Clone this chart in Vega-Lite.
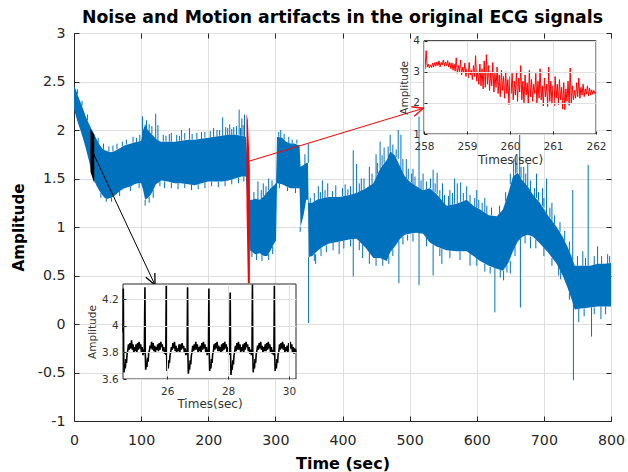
{
  "$schema": "https://vega.github.io/schema/vega-lite/v6.json",
  "width": 537,
  "height": 388,
  "autosize": "none",
  "padding": {"left": 74, "top": 33, "right": 17, "bottom": 51},
  "background": "#ffffff",
  "title": {
    "text": "Noise and Motion artifacts in the original ECG signals",
    "font": "DejaVu Sans",
    "fontSize": 17.3,
    "fontWeight": "bold",
    "color": "#000000",
    "anchor": "middle",
    "baseline": "alphabetic",
    "offset": 8,
    "dy": 22
  },
  "config": {
    "view": {"stroke": "#262626", "strokeWidth": 1},
    "axis": {
      "labelFont": "DejaVu Sans",
      "titleFont": "DejaVu Sans",
      "labelFlush": false,
      "labelOverlap": false,
      "gridColor": "#dfdfdf",
      "gridWidth": 1,
      "domainColor": "#262626",
      "tickColor": "#262626"
    }
  },
  "datasets": {
    "envelope": [
      {"t": 0, "lo": 2.22, "hi": 2.46}, {"t": 3, "lo": 2.14, "hi": 2.41}, {"t": 6, "lo": 2.07, "hi": 2.35},
      {"t": 10, "lo": 1.99, "hi": 2.28}, {"t": 14, "lo": 1.9, "hi": 2.21}, {"t": 18, "lo": 1.8, "hi": 2.13},
      {"t": 22, "lo": 1.69, "hi": 2.07}, {"t": 26, "lo": 1.58, "hi": 2.01}, {"t": 30, "lo": 1.48, "hi": 1.96},
      {"t": 34, "lo": 1.42, "hi": 1.9}, {"t": 38, "lo": 1.37, "hi": 1.85}, {"t": 42, "lo": 1.33, "hi": 1.81},
      {"t": 46, "lo": 1.3, "hi": 1.79}, {"t": 50, "lo": 1.29, "hi": 1.78}, {"t": 55, "lo": 1.3, "hi": 1.77},
      {"t": 60, "lo": 1.32, "hi": 1.78}, {"t": 65, "lo": 1.35, "hi": 1.8}, {"t": 70, "lo": 1.38, "hi": 1.82},
      {"t": 75, "lo": 1.4, "hi": 1.84}, {"t": 80, "lo": 1.41, "hi": 1.85}, {"t": 85, "lo": 1.42, "hi": 1.86},
      {"t": 90, "lo": 1.44, "hi": 1.87}, {"t": 95, "lo": 1.45, "hi": 1.88}, {"t": 100, "lo": 1.45, "hi": 1.89},
      {"t": 103, "lo": 1.38, "hi": 2.0}, {"t": 106, "lo": 1.28, "hi": 2.06}, {"t": 110, "lo": 1.3, "hi": 2.0},
      {"t": 114, "lo": 1.33, "hi": 1.97}, {"t": 118, "lo": 1.38, "hi": 1.94}, {"t": 122, "lo": 1.44, "hi": 1.91},
      {"t": 126, "lo": 1.46, "hi": 1.89}, {"t": 130, "lo": 1.48, "hi": 1.88}, {"t": 140, "lo": 1.47, "hi": 1.88},
      {"t": 150, "lo": 1.45, "hi": 1.88}, {"t": 160, "lo": 1.45, "hi": 1.89}, {"t": 170, "lo": 1.44, "hi": 1.9},
      {"t": 180, "lo": 1.43, "hi": 1.9}, {"t": 190, "lo": 1.45, "hi": 1.91}, {"t": 200, "lo": 1.47, "hi": 1.92},
      {"t": 210, "lo": 1.47, "hi": 1.93}, {"t": 220, "lo": 1.47, "hi": 1.94}, {"t": 230, "lo": 1.48, "hi": 1.95},
      {"t": 240, "lo": 1.5, "hi": 1.95}, {"t": 250, "lo": 1.52, "hi": 1.94}, {"t": 256, "lo": 1.52, "hi": 1.93},
      {"t": 262, "lo": 0.76, "hi": 1.28}, {"t": 266, "lo": 0.74, "hi": 1.28}, {"t": 270, "lo": 0.72, "hi": 1.29},
      {"t": 277, "lo": 0.73, "hi": 1.28}, {"t": 283, "lo": 0.7, "hi": 1.32}, {"t": 288, "lo": 0.7, "hi": 1.36},
      {"t": 293, "lo": 0.76, "hi": 1.4}, {"t": 298, "lo": 0.83, "hi": 1.43}, {"t": 301, "lo": 0.86, "hi": 1.45},
      {"t": 302.5, "lo": 1.45, "hi": 1.93}, {"t": 310, "lo": 1.44, "hi": 1.92}, {"t": 316, "lo": 1.42, "hi": 1.88},
      {"t": 322, "lo": 1.4, "hi": 1.86}, {"t": 328, "lo": 1.4, "hi": 1.86}, {"t": 336, "lo": 1.4, "hi": 1.84},
      {"t": 337.5, "lo": 1.0, "hi": 1.62}, {"t": 342, "lo": 1.12, "hi": 1.64}, {"t": 346, "lo": 1.28, "hi": 1.66},
      {"t": 348.5, "lo": 1.28, "hi": 1.66}, {"t": 349.5, "lo": 0.69, "hi": 1.25}, {"t": 355, "lo": 0.7, "hi": 1.25},
      {"t": 362, "lo": 0.75, "hi": 1.28}, {"t": 371, "lo": 0.8, "hi": 1.3}, {"t": 380, "lo": 0.83, "hi": 1.31},
      {"t": 396, "lo": 0.85, "hi": 1.31}, {"t": 410, "lo": 0.87, "hi": 1.33}, {"t": 421, "lo": 0.88, "hi": 1.35},
      {"t": 435, "lo": 0.78, "hi": 1.4}, {"t": 446, "lo": 0.68, "hi": 1.45}, {"t": 456, "lo": 0.68, "hi": 1.6},
      {"t": 466, "lo": 0.65, "hi": 1.69}, {"t": 471, "lo": 0.74, "hi": 1.78}, {"t": 478, "lo": 0.8, "hi": 1.74},
      {"t": 486, "lo": 0.88, "hi": 1.62}, {"t": 493, "lo": 0.92, "hi": 1.52}, {"t": 500, "lo": 0.93, "hi": 1.47},
      {"t": 510, "lo": 0.94, "hi": 1.42}, {"t": 520, "lo": 0.93, "hi": 1.38}, {"t": 530, "lo": 0.84, "hi": 1.4},
      {"t": 540, "lo": 0.8, "hi": 1.34}, {"t": 555, "lo": 0.76, "hi": 1.22}, {"t": 570, "lo": 0.75, "hi": 1.24},
      {"t": 585, "lo": 0.75, "hi": 1.28}, {"t": 595, "lo": 0.7, "hi": 1.22}, {"t": 605, "lo": 0.65, "hi": 1.18},
      {"t": 618, "lo": 0.6, "hi": 1.12}, {"t": 630, "lo": 0.57, "hi": 1.11}, {"t": 639, "lo": 0.55, "hi": 1.18},
      {"t": 647, "lo": 0.63, "hi": 1.35}, {"t": 654, "lo": 0.75, "hi": 1.52}, {"t": 661, "lo": 0.85, "hi": 1.56},
      {"t": 668, "lo": 0.9, "hi": 1.48}, {"t": 676, "lo": 0.92, "hi": 1.42}, {"t": 684, "lo": 0.9, "hi": 1.33},
      {"t": 694, "lo": 0.83, "hi": 1.25}, {"t": 706, "lo": 0.74, "hi": 1.12}, {"t": 719, "lo": 0.62, "hi": 1.0},
      {"t": 728, "lo": 0.5, "hi": 0.9}, {"t": 735, "lo": 0.38, "hi": 0.8}, {"t": 741, "lo": 0.26, "hi": 0.7},
      {"t": 746, "lo": 0.15, "hi": 0.6}, {"t": 755, "lo": 0.16, "hi": 0.6}, {"t": 769, "lo": 0.17, "hi": 0.6},
      {"t": 780, "lo": 0.18, "hi": 0.62}, {"t": 790, "lo": 0.18, "hi": 0.62}, {"t": 800, "lo": 0.18, "hi": 0.63}
    ],
    "spikes": [
      {"t": 102, "lo": 1.88, "hi": 2.14}, {"t": 108, "lo": 1.98, "hi": 2.1}, {"t": 121.7, "lo": 1.9, "hi": 2.17},
      {"t": 125, "lo": 1.88, "hi": 2.05}, {"t": 145, "lo": 1.88, "hi": 1.97}, {"t": 160, "lo": 1.89, "hi": 2.0},
      {"t": 172, "lo": 1.9, "hi": 2.02}, {"t": 190, "lo": 1.9, "hi": 1.98}, {"t": 208, "lo": 1.93, "hi": 2.02},
      {"t": 221.5, "lo": 1.94, "hi": 2.13}, {"t": 226, "lo": 1.94, "hi": 2.03}, {"t": 232, "lo": 1.95, "hi": 2.06},
      {"t": 238, "lo": 1.95, "hi": 2.03}, {"t": 246, "lo": 1.95, "hi": 2.21}, {"t": 250, "lo": 1.94, "hi": 2.12},
      {"t": 254, "lo": 1.93, "hi": 2.16}, {"t": 274, "lo": 1.28, "hi": 1.47}, {"t": 282, "lo": 1.32, "hi": 1.45},
      {"t": 290, "lo": 1.38, "hi": 1.5}, {"t": 308, "lo": 1.92, "hi": 2.0}, {"t": 320, "lo": 1.86, "hi": 1.93},
      {"t": 344, "lo": 1.64, "hi": 1.75}, {"t": 349, "lo": 1.66, "hi": 1.86}, {"t": 364, "lo": 1.28, "hi": 1.42},
      {"t": 370, "lo": 1.3, "hi": 1.48}, {"t": 378, "lo": 1.31, "hi": 1.45}, {"t": 390, "lo": 1.31, "hi": 1.43},
      {"t": 404, "lo": 1.32, "hi": 1.44}, {"t": 416, "lo": 1.34, "hi": 1.79}, {"t": 421, "lo": 1.35, "hi": 1.65},
      {"t": 428, "lo": 1.37, "hi": 1.5}, {"t": 440, "lo": 1.42, "hi": 1.62}, {"t": 450, "lo": 1.5, "hi": 1.75},
      {"t": 456, "lo": 1.6, "hi": 1.88}, {"t": 462, "lo": 1.66, "hi": 1.82}, {"t": 471, "lo": 1.78, "hi": 1.95},
      {"t": 483, "lo": 1.7, "hi": 2.0}, {"t": 487, "lo": 1.6, "hi": 1.95}, {"t": 495, "lo": 1.5, "hi": 1.7},
      {"t": 505, "lo": 1.44, "hi": 1.6}, {"t": 514, "lo": 1.4, "hi": 2.14}, {"t": 520, "lo": 1.38, "hi": 1.55},
      {"t": 535, "lo": 1.37, "hi": 1.59}, {"t": 541, "lo": 1.34, "hi": 1.56}, {"t": 549, "lo": 1.26, "hi": 1.45},
      {"t": 560, "lo": 1.22, "hi": 1.38}, {"t": 567, "lo": 1.24, "hi": 1.5}, {"t": 571, "lo": 1.24, "hi": 1.45},
      {"t": 576, "lo": 1.26, "hi": 1.46}, {"t": 585, "lo": 1.28, "hi": 1.42}, {"t": 600, "lo": 1.2, "hi": 1.38},
      {"t": 612, "lo": 1.15, "hi": 1.3}, {"t": 655, "lo": 1.52, "hi": 1.7}, {"t": 660, "lo": 1.56, "hi": 1.75},
      {"t": 664, "lo": 1.5, "hi": 2.0}, {"t": 670, "lo": 1.46, "hi": 1.62}, {"t": 676, "lo": 1.42, "hi": 1.65},
      {"t": 689, "lo": 1.3, "hi": 1.55}, {"t": 698, "lo": 1.22, "hi": 1.4}, {"t": 704, "lo": 1.14, "hi": 1.5},
      {"t": 712, "lo": 1.06, "hi": 1.25}, {"t": 743, "lo": 0.66, "hi": 1.38}, {"t": 758, "lo": 0.6, "hi": 0.75},
      {"t": 766, "lo": 0.6, "hi": 1.64}, {"t": 780, "lo": 0.62, "hi": 0.8}, {"t": 795, "lo": 0.62, "hi": 0.72},
      {"t": 106, "lo": 1.28, "hi": 1.22}, {"t": 118, "lo": 1.38, "hi": 1.3}, {"t": 337, "lo": 1.0, "hi": 0.95},
      {"t": 349.5, "lo": 0.69, "hi": 0.01}, {"t": 360, "lo": 0.72, "hi": 0.62}, {"t": 395, "lo": 0.85, "hi": 0.72},
      {"t": 416, "lo": 0.88, "hi": 0.49}, {"t": 430, "lo": 0.83, "hi": 0.68}, {"t": 440, "lo": 0.76, "hi": 0.62},
      {"t": 484, "lo": 0.86, "hi": 0.42}, {"t": 514, "lo": 0.94, "hi": 0.4}, {"t": 535, "lo": 0.82, "hi": 0.5},
      {"t": 548, "lo": 0.78, "hi": 0.62}, {"t": 590, "lo": 0.73, "hi": 0.6}, {"t": 627, "lo": 0.58, "hi": 0.12},
      {"t": 640, "lo": 0.55, "hi": 0.45}, {"t": 650, "lo": 0.65, "hi": 0.52}, {"t": 665, "lo": 0.88, "hi": 0.17},
      {"t": 680, "lo": 0.9, "hi": 0.78}, {"t": 722, "lo": 0.6, "hi": 0.5}, {"t": 744, "lo": 0.22, "hi": -0.58},
      {"t": 752, "lo": 0.16, "hi": 0.02}, {"t": 771, "lo": 0.17, "hi": -0.13}, {"t": 785, "lo": 0.18, "hi": 0.05},
      {"t": 5, "lo": 2.37, "hi": 2.42}, {"t": 12, "lo": 2.25, "hi": 2.3}, {"t": 20, "lo": 2.1, "hi": 2.16},
      {"t": 36, "lo": 1.87, "hi": 1.92}, {"t": 44, "lo": 1.8, "hi": 1.86}, {"t": 52, "lo": 1.78, "hi": 1.83},
      {"t": 58, "lo": 1.78, "hi": 1.84}, {"t": 64, "lo": 1.8, "hi": 1.86}, {"t": 72, "lo": 1.83, "hi": 1.88},
      {"t": 78, "lo": 1.85, "hi": 1.9}, {"t": 88, "lo": 1.87, "hi": 1.93}, {"t": 93, "lo": 1.87, "hi": 1.92},
      {"t": 98, "lo": 1.88, "hi": 1.95}, {"t": 112, "lo": 1.98, "hi": 2.06}, {"t": 116, "lo": 1.96, "hi": 2.04},
      {"t": 133, "lo": 1.88, "hi": 1.95}, {"t": 137, "lo": 1.88, "hi": 1.94}, {"t": 142, "lo": 1.88, "hi": 1.96},
      {"t": 153, "lo": 1.88, "hi": 1.95}, {"t": 157, "lo": 1.89, "hi": 1.94}, {"t": 165, "lo": 1.9, "hi": 1.97},
      {"t": 176, "lo": 1.9, "hi": 1.96}, {"t": 183, "lo": 1.9, "hi": 1.97}, {"t": 195, "lo": 1.92, "hi": 1.98},
      {"t": 203, "lo": 1.92, "hi": 1.99}, {"t": 213, "lo": 1.93, "hi": 2.0}, {"t": 217, "lo": 1.94, "hi": 2.0},
      {"t": 229, "lo": 1.95, "hi": 2.02}, {"t": 235, "lo": 1.95, "hi": 2.01}, {"t": 242, "lo": 1.95, "hi": 2.04},
      {"t": 248, "lo": 1.94, "hi": 2.02}, {"t": 252, "lo": 1.94, "hi": 2.05},
      {"t": 40, "lo": 1.35, "hi": 1.3}, {"t": 48, "lo": 1.3, "hi": 1.26}, {"t": 56, "lo": 1.3, "hi": 1.26},
      {"t": 68, "lo": 1.37, "hi": 1.32}, {"t": 84, "lo": 1.42, "hi": 1.37}, {"t": 97, "lo": 1.45, "hi": 1.4},
      {"t": 112, "lo": 1.31, "hi": 1.25}, {"t": 128, "lo": 1.47, "hi": 1.42}, {"t": 135, "lo": 1.47, "hi": 1.4},
      {"t": 145, "lo": 1.46, "hi": 1.4}, {"t": 155, "lo": 1.45, "hi": 1.39}, {"t": 165, "lo": 1.45, "hi": 1.4},
      {"t": 175, "lo": 1.44, "hi": 1.38}, {"t": 185, "lo": 1.44, "hi": 1.39}, {"t": 195, "lo": 1.46, "hi": 1.4},
      {"t": 205, "lo": 1.47, "hi": 1.42}, {"t": 215, "lo": 1.47, "hi": 1.41}, {"t": 225, "lo": 1.48, "hi": 1.42},
      {"t": 235, "lo": 1.49, "hi": 1.44}, {"t": 245, "lo": 1.51, "hi": 1.45}, {"t": 253, "lo": 1.52, "hi": 1.47},
      {"t": 268, "lo": 1.28, "hi": 1.36}, {"t": 279, "lo": 1.29, "hi": 1.38}, {"t": 286, "lo": 1.34, "hi": 1.42},
      {"t": 295, "lo": 1.41, "hi": 1.48}, {"t": 265, "lo": 0.75, "hi": 0.69}, {"t": 272, "lo": 0.72, "hi": 0.66},
      {"t": 280, "lo": 0.72, "hi": 0.65}, {"t": 290, "lo": 0.72, "hi": 0.66}, {"t": 296, "lo": 0.8, "hi": 0.72},
      {"t": 305, "lo": 1.93, "hi": 1.98}, {"t": 313, "lo": 1.9, "hi": 1.96}, {"t": 325, "lo": 1.86, "hi": 1.9},
      {"t": 332, "lo": 1.86, "hi": 1.9}, {"t": 306, "lo": 1.45, "hi": 1.4}, {"t": 318, "lo": 1.41, "hi": 1.37},
      {"t": 330, "lo": 1.4, "hi": 1.35},
      {"t": 352, "lo": 1.25, "hi": 1.3}, {"t": 358, "lo": 1.26, "hi": 1.35}, {"t": 367, "lo": 1.29, "hi": 1.36},
      {"t": 374, "lo": 1.3, "hi": 1.38}, {"t": 385, "lo": 1.31, "hi": 1.37}, {"t": 400, "lo": 1.32, "hi": 1.4},
      {"t": 408, "lo": 1.33, "hi": 1.39}, {"t": 412, "lo": 1.33, "hi": 1.42}, {"t": 425, "lo": 1.36, "hi": 1.45},
      {"t": 432, "lo": 1.39, "hi": 1.5}, {"t": 444, "lo": 1.44, "hi": 1.55}, {"t": 452, "lo": 1.55, "hi": 1.66},
      {"t": 459, "lo": 1.63, "hi": 1.74}, {"t": 468, "lo": 1.72, "hi": 1.83}, {"t": 475, "lo": 1.76, "hi": 1.85},
      {"t": 480, "lo": 1.72, "hi": 1.8}, {"t": 490, "lo": 1.56, "hi": 1.7}, {"t": 498, "lo": 1.49, "hi": 1.6},
      {"t": 503, "lo": 1.46, "hi": 1.55}, {"t": 508, "lo": 1.43, "hi": 1.52}, {"t": 517, "lo": 1.39, "hi": 1.48},
      {"t": 525, "lo": 1.39, "hi": 1.47}, {"t": 531, "lo": 1.4, "hi": 1.5}, {"t": 538, "lo": 1.36, "hi": 1.45},
      {"t": 545, "lo": 1.3, "hi": 1.38}, {"t": 552, "lo": 1.24, "hi": 1.33}, {"t": 558, "lo": 1.22, "hi": 1.32},
      {"t": 564, "lo": 1.23, "hi": 1.35}, {"t": 580, "lo": 1.27, "hi": 1.35}, {"t": 590, "lo": 1.25, "hi": 1.33},
      {"t": 597, "lo": 1.21, "hi": 1.3}, {"t": 603, "lo": 1.19, "hi": 1.28}, {"t": 608, "lo": 1.16, "hi": 1.25},
      {"t": 615, "lo": 1.13, "hi": 1.22}, {"t": 622, "lo": 1.12, "hi": 1.2}, {"t": 634, "lo": 1.14, "hi": 1.22},
      {"t": 643, "lo": 1.27, "hi": 1.36}, {"t": 650, "lo": 1.44, "hi": 1.55}, {"t": 658, "lo": 1.55, "hi": 1.66},
      {"t": 666, "lo": 1.5, "hi": 1.62}, {"t": 673, "lo": 1.44, "hi": 1.55}, {"t": 680, "lo": 1.37, "hi": 1.48},
      {"t": 686, "lo": 1.31, "hi": 1.4}, {"t": 692, "lo": 1.27, "hi": 1.36}, {"t": 700, "lo": 1.2, "hi": 1.3},
      {"t": 709, "lo": 1.1, "hi": 1.2}, {"t": 716, "lo": 1.03, "hi": 1.12}, {"t": 724, "lo": 0.95, "hi": 1.05},
      {"t": 731, "lo": 0.86, "hi": 0.96}, {"t": 738, "lo": 0.75, "hi": 0.85}, {"t": 750, "lo": 0.6, "hi": 0.7},
      {"t": 762, "lo": 0.6, "hi": 0.68}, {"t": 775, "lo": 0.61, "hi": 0.7}, {"t": 786, "lo": 0.62, "hi": 0.7},
      {"t": 798, "lo": 0.63, "hi": 0.7},
      {"t": 358, "lo": 0.72, "hi": 0.65}, {"t": 368, "lo": 0.78, "hi": 0.7}, {"t": 376, "lo": 0.81, "hi": 0.74},
      {"t": 386, "lo": 0.84, "hi": 0.76}, {"t": 402, "lo": 0.86, "hi": 0.78}, {"t": 412, "lo": 0.87, "hi": 0.8},
      {"t": 425, "lo": 0.85, "hi": 0.76}, {"t": 450, "lo": 0.68, "hi": 0.6}, {"t": 460, "lo": 0.67, "hi": 0.6},
      {"t": 469, "lo": 0.7, "hi": 0.62}, {"t": 475, "lo": 0.77, "hi": 0.7}, {"t": 490, "lo": 0.9, "hi": 0.82},
      {"t": 497, "lo": 0.92, "hi": 0.86}, {"t": 505, "lo": 0.93, "hi": 0.85}, {"t": 525, "lo": 0.89, "hi": 0.8},
      {"t": 545, "lo": 0.78, "hi": 0.7}, {"t": 560, "lo": 0.76, "hi": 0.68}, {"t": 575, "lo": 0.75, "hi": 0.66},
      {"t": 600, "lo": 0.68, "hi": 0.6}, {"t": 612, "lo": 0.62, "hi": 0.54}, {"t": 620, "lo": 0.59, "hi": 0.52},
      {"t": 635, "lo": 0.56, "hi": 0.48}, {"t": 645, "lo": 0.61, "hi": 0.53}, {"t": 657, "lo": 0.8, "hi": 0.7},
      {"t": 672, "lo": 0.91, "hi": 0.83}, {"t": 688, "lo": 0.87, "hi": 0.78}, {"t": 700, "lo": 0.79, "hi": 0.7},
      {"t": 712, "lo": 0.68, "hi": 0.6}, {"t": 725, "lo": 0.55, "hi": 0.46}, {"t": 738, "lo": 0.32, "hi": 0.25},
      {"t": 760, "lo": 0.16, "hi": 0.08}, {"t": 775, "lo": 0.17, "hi": 0.1}, {"t": 792, "lo": 0.18, "hi": 0.1}
    ],
    "highlight": [
      {"part": "B", "t": 24.5, "lo": 1.57, "hi": 2.01},
      {"part": "B", "t": 30.2, "lo": 1.45, "hi": 1.95},
      {"part": "A", "t": 257, "lo": 1.2, "hi": 2.17},
      {"part": "A", "t": 259, "lo": 0.42, "hi": 2.1},
      {"part": "A", "t": 262, "lo": 0.42, "hi": 1.6}
    ],
    "arrows": [
      {"part": "B", "t": 28.75, "v": 1.76, "t2": 120.7, "v2": 0.402},
      {"part": "A", "t": 259.2, "v": 1.675, "t2": 520.4, "v2": 2.224}
    ],
    "zoomA": [
      {"t": 258.000, "v": 3.20}, {"t": 258.025, "v": 3.10}, {"t": 258.050, "v": 3.68}, {"t": 258.075, "v": 3.15},
      {"t": 258.100, "v": 3.25}, {"t": 258.125, "v": 3.12}, {"t": 258.150, "v": 3.22}, {"t": 258.175, "v": 3.14},
      {"t": 258.200, "v": 3.28}, {"t": 258.225, "v": 3.15}, {"t": 258.250, "v": 3.30}, {"t": 258.275, "v": 3.18},
      {"t": 258.300, "v": 3.32}, {"t": 258.325, "v": 3.20}, {"t": 258.350, "v": 3.35}, {"t": 258.375, "v": 3.16},
      {"t": 258.400, "v": 3.30}, {"t": 258.425, "v": 3.22}, {"t": 258.450, "v": 3.38}, {"t": 258.475, "v": 3.18},
      {"t": 258.500, "v": 3.32}, {"t": 258.525, "v": 3.20}, {"t": 258.550, "v": 3.36}, {"t": 258.575, "v": 3.15},
      {"t": 258.600, "v": 3.30}, {"t": 258.625, "v": 3.10}, {"t": 258.650, "v": 3.28}, {"t": 258.675, "v": 3.05},
      {"t": 258.700, "v": 3.25}, {"t": 258.725, "v": 3.02}, {"t": 258.750, "v": 3.45}, {"t": 258.775, "v": 2.95},
      {"t": 258.800, "v": 3.20}, {"t": 258.825, "v": 3.00}, {"t": 258.850, "v": 3.38}, {"t": 258.875, "v": 2.90},
      {"t": 258.900, "v": 3.15}, {"t": 258.925, "v": 2.98}, {"t": 258.950, "v": 3.28}, {"t": 258.975, "v": 2.85},
      {"t": 259.000, "v": 3.10}, {"t": 259.025, "v": 2.80}, {"t": 259.050, "v": 3.30}, {"t": 259.075, "v": 2.90},
      {"t": 259.100, "v": 3.05}, {"t": 259.125, "v": 2.75}, {"t": 259.150, "v": 3.20}, {"t": 259.175, "v": 2.85},
      {"t": 259.200, "v": 3.52}, {"t": 259.225, "v": 2.70}, {"t": 259.250, "v": 3.00}, {"t": 259.275, "v": 2.60},
      {"t": 259.300, "v": 3.25}, {"t": 259.325, "v": 2.55}, {"t": 259.350, "v": 3.10}, {"t": 259.375, "v": 2.45},
      {"t": 259.400, "v": 3.35}, {"t": 259.425, "v": 2.50}, {"t": 259.450, "v": 3.55}, {"t": 259.475, "v": 2.60},
      {"t": 259.500, "v": 3.20}, {"t": 259.525, "v": 2.40}, {"t": 259.550, "v": 3.00}, {"t": 259.575, "v": 2.55},
      {"t": 259.600, "v": 3.30}, {"t": 259.625, "v": 2.35}, {"t": 259.650, "v": 2.95}, {"t": 259.675, "v": 2.50},
      {"t": 259.700, "v": 3.15}, {"t": 259.725, "v": 2.30}, {"t": 259.750, "v": 2.90}, {"t": 259.775, "v": 2.20},
      {"t": 259.800, "v": 3.05}, {"t": 259.825, "v": 2.40}, {"t": 259.850, "v": 2.85}, {"t": 259.875, "v": 2.15},
      {"t": 259.900, "v": 3.00}, {"t": 259.925, "v": 2.30}, {"t": 259.950, "v": 2.75}, {"t": 259.975, "v": 1.95},
      {"t": 260.000, "v": 2.85}, {"t": 260.025, "v": 2.30}, {"t": 260.050, "v": 2.95}, {"t": 260.075, "v": 2.10},
      {"t": 260.100, "v": 2.70}, {"t": 260.125, "v": 2.25}, {"t": 260.150, "v": 3.00}, {"t": 260.175, "v": 2.05},
      {"t": 260.200, "v": 2.80}, {"t": 260.225, "v": 2.35}, {"t": 260.250, "v": 3.20}, {"t": 260.275, "v": 2.10},
      {"t": 260.300, "v": 2.70}, {"t": 260.325, "v": 2.00}, {"t": 260.350, "v": 2.90}, {"t": 260.375, "v": 2.25},
      {"t": 260.400, "v": 2.65}, {"t": 260.425, "v": 1.98}, {"t": 260.450, "v": 3.05}, {"t": 260.475, "v": 2.20},
      {"t": 260.500, "v": 2.75}, {"t": 260.525, "v": 2.05}, {"t": 260.550, "v": 2.60}, {"t": 260.575, "v": 2.30},
      {"t": 260.600, "v": 2.95}, {"t": 260.625, "v": 2.00}, {"t": 260.650, "v": 2.70}, {"t": 260.675, "v": 2.15},
      {"t": 260.700, "v": 3.10}, {"t": 260.725, "v": 2.10}, {"t": 260.750, "v": 2.55}, {"t": 260.775, "v": 1.90},
      {"t": 260.800, "v": 2.80}, {"t": 260.825, "v": 2.20}, {"t": 260.850, "v": 2.60}, {"t": 260.875, "v": 1.88},
      {"t": 260.900, "v": 3.15}, {"t": 260.925, "v": 2.05}, {"t": 260.950, "v": 2.70}, {"t": 260.975, "v": 2.00},
      {"t": 261.000, "v": 2.55}, {"t": 261.025, "v": 1.90}, {"t": 261.050, "v": 2.85}, {"t": 261.075, "v": 2.15},
      {"t": 261.100, "v": 2.60}, {"t": 261.125, "v": 1.95}, {"t": 261.150, "v": 2.75}, {"t": 261.175, "v": 2.10},
      {"t": 261.200, "v": 2.50}, {"t": 261.225, "v": 1.80}, {"t": 261.250, "v": 2.65}, {"t": 261.275, "v": 1.78},
      {"t": 261.300, "v": 2.45}, {"t": 261.325, "v": 2.05}, {"t": 261.350, "v": 2.70}, {"t": 261.375, "v": 1.92},
      {"t": 261.400, "v": 3.12}, {"t": 261.425, "v": 2.00}, {"t": 261.450, "v": 2.55}, {"t": 261.475, "v": 2.10},
      {"t": 261.500, "v": 2.40}, {"t": 261.525, "v": 2.15}, {"t": 261.550, "v": 2.65}, {"t": 261.575, "v": 2.20},
      {"t": 261.600, "v": 2.80}, {"t": 261.625, "v": 2.15}, {"t": 261.650, "v": 2.50}, {"t": 261.675, "v": 2.25},
      {"t": 261.700, "v": 2.60}, {"t": 261.725, "v": 2.20}, {"t": 261.750, "v": 2.45}, {"t": 261.775, "v": 2.28},
      {"t": 261.800, "v": 2.55}, {"t": 261.825, "v": 2.22}, {"t": 261.850, "v": 2.48}, {"t": 261.875, "v": 2.25},
      {"t": 261.900, "v": 2.42}, {"t": 261.925, "v": 2.28}, {"t": 261.950, "v": 2.40}, {"t": 261.975, "v": 2.30},
      {"t": 262.000, "v": 2.35}
    ],
    "zoomB": [
      {"t": 24.552, "v": 3.95}, {"t": 24.560, "v": 4.28}, {"t": 24.572, "v": 3.80}, {"t": 24.585, "v": 3.65},
      {"t": 24.605, "v": 3.71}, {"t": 24.625, "v": 3.68}, {"t": 24.645, "v": 3.75}, {"t": 24.665, "v": 3.72},
      {"t": 24.685, "v": 3.79}, {"t": 24.705, "v": 3.81}, {"t": 24.730, "v": 3.86}, {"t": 24.755, "v": 3.82},
      {"t": 24.780, "v": 3.87}, {"t": 24.805, "v": 3.83}, {"t": 24.830, "v": 3.89}, {"t": 24.855, "v": 3.82},
      {"t": 24.880, "v": 3.86}, {"t": 24.905, "v": 3.80}, {"t": 24.930, "v": 3.84}, {"t": 24.955, "v": 3.81},
      {"t": 24.980, "v": 3.86}, {"t": 25.005, "v": 3.80}, {"t": 25.030, "v": 3.87}, {"t": 25.055, "v": 3.82},
      {"t": 25.080, "v": 3.88}, {"t": 25.105, "v": 3.83}, {"t": 25.130, "v": 3.86}, {"t": 25.155, "v": 3.80},
      {"t": 25.180, "v": 3.84}, {"t": 25.205, "v": 3.78}, {"t": 25.230, "v": 3.82}, {"t": 25.250, "v": 3.79},
      {"t": 25.270, "v": 4.29}, {"t": 25.282, "v": 3.79}, {"t": 25.295, "v": 3.67}, {"t": 25.315, "v": 3.72},
      {"t": 25.335, "v": 3.69}, {"t": 25.355, "v": 3.76}, {"t": 25.375, "v": 3.73}, {"t": 25.395, "v": 3.80},
      {"t": 25.415, "v": 3.81}, {"t": 25.440, "v": 3.85}, {"t": 25.465, "v": 3.83}, {"t": 25.490, "v": 3.88},
      {"t": 25.515, "v": 3.82}, {"t": 25.540, "v": 3.87}, {"t": 25.565, "v": 3.81}, {"t": 25.590, "v": 3.85},
      {"t": 25.615, "v": 3.80}, {"t": 25.640, "v": 3.84}, {"t": 25.665, "v": 3.82}, {"t": 25.690, "v": 3.86},
      {"t": 25.715, "v": 3.81}, {"t": 25.740, "v": 3.87}, {"t": 25.765, "v": 3.82}, {"t": 25.790, "v": 3.88},
      {"t": 25.815, "v": 3.84}, {"t": 25.840, "v": 3.86}, {"t": 25.865, "v": 3.81}, {"t": 25.890, "v": 3.84},
      {"t": 25.915, "v": 3.79}, {"t": 25.940, "v": 3.82}, {"t": 25.955, "v": 3.78},
      {"t": 25.970, "v": 4.30}, {"t": 25.982, "v": 3.80}, {"t": 25.995, "v": 3.66}, {"t": 26.015, "v": 3.70},
      {"t": 26.035, "v": 3.68}, {"t": 26.055, "v": 3.74}, {"t": 26.075, "v": 3.72}, {"t": 26.095, "v": 3.78},
      {"t": 26.115, "v": 3.80}, {"t": 26.140, "v": 3.84}, {"t": 26.165, "v": 3.82}, {"t": 26.190, "v": 3.87},
      {"t": 26.215, "v": 3.83}, {"t": 26.240, "v": 3.88}, {"t": 26.265, "v": 3.81}, {"t": 26.290, "v": 3.85},
      {"t": 26.315, "v": 3.80}, {"t": 26.340, "v": 3.83}, {"t": 26.365, "v": 3.81}, {"t": 26.390, "v": 3.86},
      {"t": 26.415, "v": 3.80}, {"t": 26.440, "v": 3.86}, {"t": 26.465, "v": 3.82}, {"t": 26.490, "v": 3.87},
      {"t": 26.515, "v": 3.83}, {"t": 26.540, "v": 3.85}, {"t": 26.565, "v": 3.80}, {"t": 26.590, "v": 3.83},
      {"t": 26.615, "v": 3.78}, {"t": 26.640, "v": 3.81}, {"t": 26.655, "v": 3.79},
      {"t": 26.670, "v": 4.29}, {"t": 26.682, "v": 3.78}, {"t": 26.695, "v": 3.64}, {"t": 26.715, "v": 3.70},
      {"t": 26.735, "v": 3.67}, {"t": 26.755, "v": 3.74}, {"t": 26.775, "v": 3.71}, {"t": 26.795, "v": 3.78},
      {"t": 26.815, "v": 3.80}, {"t": 26.840, "v": 3.85}, {"t": 26.865, "v": 3.81}, {"t": 26.890, "v": 3.86},
      {"t": 26.915, "v": 3.82}, {"t": 26.940, "v": 3.88}, {"t": 26.965, "v": 3.82}, {"t": 26.990, "v": 3.86},
      {"t": 27.015, "v": 3.80}, {"t": 27.040, "v": 3.84}, {"t": 27.065, "v": 3.81}, {"t": 27.090, "v": 3.85},
      {"t": 27.115, "v": 3.80}, {"t": 27.140, "v": 3.87}, {"t": 27.165, "v": 3.82}, {"t": 27.190, "v": 3.88},
      {"t": 27.215, "v": 3.83}, {"t": 27.240, "v": 3.86}, {"t": 27.265, "v": 3.80}, {"t": 27.290, "v": 3.84},
      {"t": 27.315, "v": 3.78}, {"t": 27.340, "v": 3.82}, {"t": 27.355, "v": 3.79},
      {"t": 27.370, "v": 4.28}, {"t": 27.382, "v": 3.79}, {"t": 27.395, "v": 3.66}, {"t": 27.415, "v": 3.71},
      {"t": 27.435, "v": 3.68}, {"t": 27.455, "v": 3.75}, {"t": 27.475, "v": 3.72}, {"t": 27.495, "v": 3.79},
      {"t": 27.515, "v": 3.80}, {"t": 27.540, "v": 3.86}, {"t": 27.565, "v": 3.82}, {"t": 27.590, "v": 3.87},
      {"t": 27.615, "v": 3.83}, {"t": 27.640, "v": 3.88}, {"t": 27.665, "v": 3.81}, {"t": 27.690, "v": 3.85},
      {"t": 27.715, "v": 3.81}, {"t": 27.740, "v": 3.84}, {"t": 27.765, "v": 3.80}, {"t": 27.790, "v": 3.86},
      {"t": 27.815, "v": 3.81}, {"t": 27.840, "v": 3.87}, {"t": 27.865, "v": 3.82}, {"t": 27.890, "v": 3.88},
      {"t": 27.915, "v": 3.83}, {"t": 27.940, "v": 3.86}, {"t": 27.965, "v": 3.80}, {"t": 27.990, "v": 3.84},
      {"t": 28.015, "v": 3.79}, {"t": 28.040, "v": 3.82}, {"t": 28.055, "v": 3.78},
      {"t": 28.070, "v": 4.25}, {"t": 28.082, "v": 3.79}, {"t": 28.095, "v": 3.63}, {"t": 28.115, "v": 3.70},
      {"t": 28.135, "v": 3.67}, {"t": 28.155, "v": 3.74}, {"t": 28.175, "v": 3.71}, {"t": 28.195, "v": 3.78},
      {"t": 28.215, "v": 3.80}, {"t": 28.240, "v": 3.85}, {"t": 28.265, "v": 3.81}, {"t": 28.290, "v": 3.87},
      {"t": 28.315, "v": 3.82}, {"t": 28.340, "v": 3.88}, {"t": 28.365, "v": 3.82}, {"t": 28.390, "v": 3.86},
      {"t": 28.415, "v": 3.80}, {"t": 28.440, "v": 3.84}, {"t": 28.465, "v": 3.81}, {"t": 28.490, "v": 3.86},
      {"t": 28.515, "v": 3.80}, {"t": 28.540, "v": 3.87}, {"t": 28.565, "v": 3.82}, {"t": 28.590, "v": 3.88},
      {"t": 28.615, "v": 3.84}, {"t": 28.640, "v": 3.86}, {"t": 28.665, "v": 3.81}, {"t": 28.690, "v": 3.84},
      {"t": 28.715, "v": 3.79}, {"t": 28.740, "v": 3.82}, {"t": 28.765, "v": 3.78}, {"t": 28.785, "v": 3.80},
      {"t": 28.800, "v": 4.31}, {"t": 28.812, "v": 3.78}, {"t": 28.825, "v": 3.65}, {"t": 28.845, "v": 3.71},
      {"t": 28.865, "v": 3.68}, {"t": 28.885, "v": 3.75}, {"t": 28.905, "v": 3.72}, {"t": 28.925, "v": 3.79},
      {"t": 28.945, "v": 3.81}, {"t": 28.970, "v": 3.85}, {"t": 28.995, "v": 3.82}, {"t": 29.020, "v": 3.87},
      {"t": 29.045, "v": 3.83}, {"t": 29.070, "v": 3.88}, {"t": 29.095, "v": 3.82}, {"t": 29.120, "v": 3.85},
      {"t": 29.145, "v": 3.80}, {"t": 29.170, "v": 3.84}, {"t": 29.195, "v": 3.81}, {"t": 29.220, "v": 3.86},
      {"t": 29.245, "v": 3.81}, {"t": 29.270, "v": 3.87}, {"t": 29.295, "v": 3.82}, {"t": 29.320, "v": 3.88},
      {"t": 29.345, "v": 3.83}, {"t": 29.370, "v": 3.86}, {"t": 29.395, "v": 3.80}, {"t": 29.420, "v": 3.84},
      {"t": 29.445, "v": 3.79}, {"t": 29.470, "v": 3.82}, {"t": 29.490, "v": 3.78}, {"t": 29.505, "v": 3.80},
      {"t": 29.520, "v": 4.30}, {"t": 29.532, "v": 3.79}, {"t": 29.545, "v": 3.66}, {"t": 29.565, "v": 3.71},
      {"t": 29.585, "v": 3.68}, {"t": 29.605, "v": 3.75}, {"t": 29.625, "v": 3.72}, {"t": 29.645, "v": 3.79},
      {"t": 29.665, "v": 3.80}, {"t": 29.690, "v": 3.86}, {"t": 29.715, "v": 3.82}, {"t": 29.740, "v": 3.87},
      {"t": 29.765, "v": 3.83}, {"t": 29.790, "v": 3.88}, {"t": 29.815, "v": 3.82}, {"t": 29.840, "v": 3.86},
      {"t": 29.865, "v": 3.80}, {"t": 29.890, "v": 3.84}, {"t": 29.915, "v": 3.81}, {"t": 29.940, "v": 3.85},
      {"t": 29.965, "v": 3.80}, {"t": 29.990, "v": 3.87}, {"t": 30.015, "v": 3.82}, {"t": 30.040, "v": 3.88},
      {"t": 30.065, "v": 3.83}, {"t": 30.090, "v": 3.86}, {"t": 30.115, "v": 3.80}, {"t": 30.140, "v": 3.84},
      {"t": 30.165, "v": 3.79}, {"t": 30.190, "v": 3.83}, {"t": 30.215, "v": 3.80}, {"t": 30.230, "v": 3.82}
    ]
  },
  "layer": [
    {
      "layer": [
        {
          "data": {"name": "envelope"},
          "mark": {"type": "area", "color": "#0072BD"},
          "encoding": {
            "x": {
              "field": "t", "type": "quantitative",
              "scale": {"domain": [0, 800], "nice": false, "zero": false},
              "axis": {
                "orient": "bottom", "values": [0, 100, 200, 300, 400, 500, 600, 700, 800],
                "grid": true, "tickSize": -5, "labelPadding": 17, "labelFontSize": 14.2,
                "labelColor": "#262626", "title": "Time (sec)", "titleFontSize": 16,
                "titleFontWeight": "bold", "titleColor": "#000000", "titleY": 47,
                "titleBaseline": "alphabetic", "zindex": 0
              }
            },
            "y": {
              "field": "lo", "type": "quantitative",
              "scale": {"domain": [-1, 3], "nice": false, "zero": false},
              "axis": {
                "orient": "left", "values": [-1, -0.5, 0, 0.5, 1, 1.5, 2, 2.5, 3],
                "labelExpr": "datum.value + ''",
                "grid": true, "tickSize": -5, "labelPadding": 14, "labelFontSize": 14.2,
                "labelColor": "#262626", "title": "Amplitude", "titleFontSize": 15.2,
                "titleFontWeight": "bold", "titleColor": "#000000", "titleX": -51,
                "titleBaseline": "alphabetic", "zindex": 0
              }
            },
            "y2": {"field": "hi"}
          }
        },
        {
          "data": {"name": "spikes"},
          "mark": {"type": "rule", "color": "#0072BD", "strokeWidth": 1},
          "encoding": {
            "x": {
              "field": "t", "type": "quantitative",
              "axis": {
                "orient": "top", "values": [0, 100, 200, 300, 400, 500, 600, 700, 800],
                "labels": false, "grid": false, "domain": false, "tickSize": -5, "title": null
              }
            },
            "y": {
              "field": "lo", "type": "quantitative",
              "axis": {
                "orient": "right", "values": [-1, -0.5, 0, 0.5, 1, 1.5, 2, 2.5, 3],
                "labels": false, "grid": false, "domain": false, "tickSize": -5, "title": null
              }
            },
            "y2": {"field": "hi"}
          }
        },
        {
          "data": {"name": "highlight"},
          "mark": {"type": "area"},
          "encoding": {
            "x": {"field": "t", "type": "quantitative", "axis": null},
            "y": {"field": "lo", "type": "quantitative", "axis": null},
            "y2": {"field": "hi"},
            "color": {
              "field": "part", "type": "nominal",
              "scale": {"domain": ["A", "B"], "range": ["#ff0000", "#000000"]},
              "legend": null
            }
          }
        },
        {
          "data": {"name": "arrows"},
          "mark": {"type": "rule", "strokeWidth": 1},
          "encoding": {
            "x": {"field": "t", "type": "quantitative", "axis": null},
            "y": {"field": "v", "type": "quantitative", "axis": null},
            "x2": {"field": "t2"},
            "y2": {"field": "v2"},
            "color": {"field": "part", "type": "nominal", "legend": null}
          }
        },
        {
          "data": {"name": "arrows"},
          "transform": [{"filter": "datum.part === 'A'"}],
          "mark": {
            "type": "point", "shape": "M-1,-0.45L0,0L-1,0.45", "size": 484,
            "filled": false, "stroke": "#ff0000", "strokeWidth": 1.3, "opacity": 1, "angle": 343.1
          },
          "encoding": {
            "x": {"field": "t2", "type": "quantitative", "axis": null},
            "y": {"field": "v2", "type": "quantitative", "axis": null}
          }
        },
        {
          "data": {"name": "arrows"},
          "transform": [{"filter": "datum.part === 'B'"}],
          "mark": {
            "type": "point", "shape": "M-1,-0.45L0,0L-1,0.45", "size": 484,
            "filled": false, "stroke": "#000000", "strokeWidth": 1.3, "opacity": 1, "angle": 64.9
          },
          "encoding": {
            "x": {"field": "t2", "type": "quantitative", "axis": null},
            "y": {"field": "v2", "type": "quantitative", "axis": null}
          }
        }
      ],
      "resolve": {"axis": {"x": "independent", "y": "independent"}}
    },
    {
      "layer": [
        {
          "data": {"values": [{}]},
          "mark": {"type": "rect", "fill": "#ffffff", "stroke": "#262626", "strokeWidth": 1},
          "encoding": {
            "x": {
              "datum": 258, "type": "quantitative",
              "scale": {"domain": [258, 262], "range": [350, 522], "nice": false, "zero": false},
              "axis": {
                "orient": "top", "offset": -101, "values": [258, 259, 260, 261, 262],
                "labelExpr": "datum.value + ''",
                "grid": true, "domain": false, "tickSize": 3, "labelPadding": -10,
                "labelBaseline": "top", "labelFontSize": 10.5, "labelColor": "#333333",
                "title": "Times(sec)", "titleFontSize": 12, "titleFontWeight": "normal",
                "titleColor": "#333333", "titleY": 29.5, "titleBaseline": "alphabetic", "zindex": 1
              }
            },
            "x2": {"datum": 262},
            "y": {
              "datum": 1, "type": "quantitative",
              "scale": {"domain": [1, 4], "range": [101, 7.7], "nice": false, "zero": false},
              "axis": {
                "orient": "left", "offset": -350, "values": [1, 2, 3, 4],
                "labelExpr": "datum.value + ''",
                "grid": true, "domain": false, "tickSize": -3, "labelPadding": 7.5,
                "labelFontSize": 10.5, "labelColor": "#333333",
                "title": "Amplitude", "titleFontSize": 10.5, "titleFontWeight": "normal",
                "titleColor": "#333333", "titleX": -16.5, "titleBaseline": "alphabetic", "zindex": 1
              }
            },
            "y2": {"datum": 4}
          }
        },
        {
          "data": {"name": "zoomA"},
          "mark": {"type": "line", "color": "#ff0000", "strokeWidth": 1},
          "encoding": {
            "x": {"field": "t", "type": "quantitative"},
            "y": {"field": "v", "type": "quantitative"}
          }
        }
      ]
    },
    {
      "layer": [
        {
          "data": {"values": [{}]},
          "mark": {"type": "rect", "fill": "#ffffff", "stroke": "#262626", "strokeWidth": 1},
          "encoding": {
            "x": {
              "datum": 24.55, "type": "quantitative",
              "scale": {"domain": [24.55, 30.23], "range": [49, 222], "nice": false, "zero": false},
              "axis": {
                "orient": "top", "offset": -346, "values": [26, 28, 30],
                "labelExpr": "datum.value + ''",
                "grid": true, "domain": false, "tickSize": 3, "labelPadding": -10,
                "labelBaseline": "top", "labelFontSize": 10.5, "labelColor": "#333333",
                "title": "Times(sec)", "titleFontSize": 12, "titleFontWeight": "normal",
                "titleColor": "#333333", "titleY": 28, "titleBaseline": "alphabetic", "zindex": 1
              }
            },
            "x2": {"datum": 30.23},
            "y": {
              "datum": 3.6, "type": "quantitative",
              "scale": {"domain": [3.6, 4.314], "range": [346, 251], "nice": false, "zero": false},
              "axis": {
                "orient": "left", "offset": -49, "values": [3.6, 3.8, 4, 4.2],
                "labelExpr": "datum.value + ''",
                "grid": true, "domain": false, "tickSize": -3, "labelPadding": 7.7,
                "labelFontSize": 10.5, "labelColor": "#333333",
                "title": "Amplitude", "titleFontSize": 10.5, "titleFontWeight": "normal",
                "titleColor": "#333333", "titleX": -27.5, "titleBaseline": "alphabetic", "zindex": 1
              }
            },
            "y2": {"datum": 4.314}
          }
        },
        {
          "data": {"name": "zoomB"},
          "mark": {"type": "line", "color": "#000000", "strokeWidth": 1.6},
          "encoding": {
            "x": {"field": "t", "type": "quantitative"},
            "y": {"field": "v", "type": "quantitative"}
          }
        }
      ]
    }
  ],
  "resolve": {
    "scale": {"x": "independent", "y": "independent"},
    "axis": {"x": "independent", "y": "independent"}
  }
}
